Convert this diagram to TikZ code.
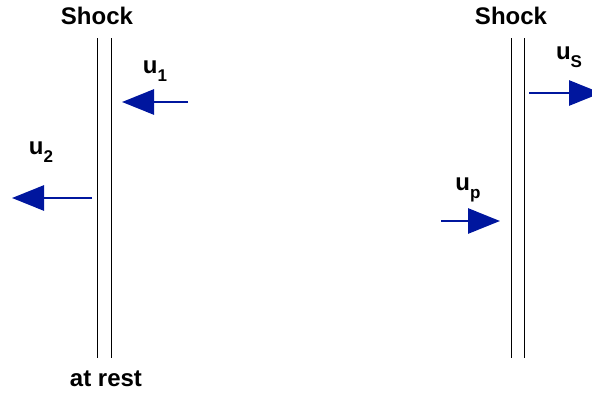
\documentclass[tikz,border=0pt]{standalone}
\usepackage{fontspec}
\setmainfont{Liberation Sans}
\usetikzlibrary{arrows.meta}
\definecolor{arrowblue}{RGB}{0,22,158}
\newcommand{\mysub}[1]{\raisebox{-0.32em}{\fontsize{17}{17}\selectfont #1}}
\tikzset{
  lbl/.style={font=\fontsize{24}{24}\selectfont\bfseries, inner sep=0pt},
  wall/.style={line width=0.8pt, black},
  flow/.style={line width=2.8pt, arrowblue, -{Triangle[length=32pt,width=25pt]}}
}
\begin{document}
\begin{tikzpicture}[x=1pt,y=-1pt]
\clip (0,0) rectangle (592,399);
% left shock
\coordinate (l1t) at (97,38); \coordinate (l1b) at (97,358);
\coordinate (l2t) at (111,38); \coordinate (l2b) at (111,358);
\draw[wall] (l1t) -- (l1b);
\draw[wall] (l2t) -- (l2b);
\node[lbl] (shockL) at (97,16) {Shock};
\node[lbl] (rest) at (106,379) {at rest};
% right shock
\coordinate (r1t) at (511,38); \coordinate (r1b) at (511,358);
\coordinate (r2t) at (524,38); \coordinate (r2b) at (524,358);
\draw[wall] (r1t) -- (r1b);
\draw[wall] (r2t) -- (r2b);
\node[lbl] (shockR) at (511,16) {Shock};
% u1
\coordinate (u1s) at (188,102); \coordinate (u1e) at (122,102);
\draw[flow] (u1s) -- (u1e);
\node[lbl] (u1) at (155,71) {u\mysub{1}};
% u2
\coordinate (u2s) at (92,198); \coordinate (u2e) at (12,198);
\draw[flow] (u2s) -- (u2e);
\node[lbl] (u2) at (41,152) {u\mysub{2}};
% us
\coordinate (uss) at (529,93); \coordinate (use) at (601,93);
\draw[flow] (uss) -- (use);
\node[lbl] (us) at (569,57) {u\mysub{S}};
% up
\coordinate (ups) at (441,221); \coordinate (upe) at (500,221);
\draw[flow] (ups) -- (upe);
\node[lbl] (up) at (468,190) {u\mysub{p}};
\end{tikzpicture}
\end{document}
